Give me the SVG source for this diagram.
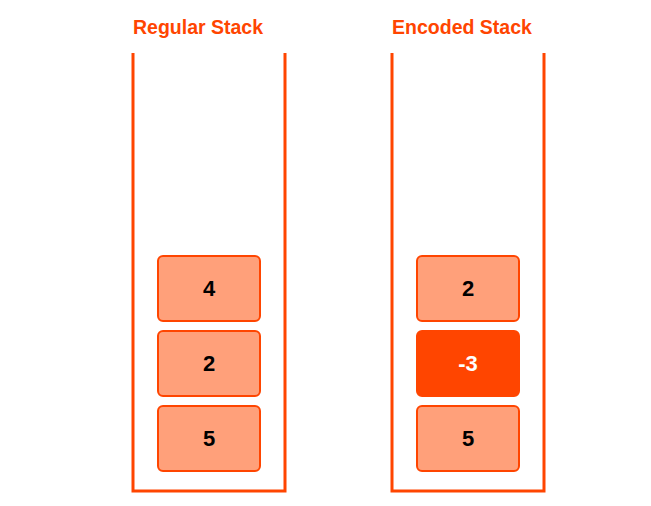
<svg xmlns="http://www.w3.org/2000/svg" width="651" height="506" viewBox="0 0 651 506">
<style>
.title{font-family:"Liberation Sans",Arial,sans-serif;font-weight:bold;font-size:19.5px;fill:#FF4500;text-anchor:middle}
.stack{fill:none;stroke:#FF4500;stroke-width:3}
.box{fill:#FFA07A;stroke:#FF4500;stroke-width:2}
.hot{fill:#FF4500;stroke:#FF4500;stroke-width:2}
.lbl{font-family:"Liberation Sans",Arial,sans-serif;font-weight:bold;font-size:22px;fill:#000;text-anchor:middle;dominant-baseline:central}
.lblw{fill:#fff}
</style>
<rect width="651" height="506" fill="#fff"/>
<g id="regular-stack">
<text class="title" x="198" y="34">Regular Stack</text>
<polyline class="stack" points="133,53 133,491 285,491 285,53"/>
</g>
<g id="encoded-stack">
<text class="title" x="462" y="34">Encoded Stack</text>
<polyline class="stack" points="392,53 392,491 544,491 544,53"/>
</g>
<g id="r4"><rect class="box" x="158" y="256" width="102" height="65" rx="5"/><text class="lbl" x="209" y="288">4</text></g>
<g id="r2"><rect class="box" x="158" y="331" width="102" height="65" rx="5"/><text class="lbl" x="209" y="363">2</text></g>
<g id="r5"><rect class="box" x="158" y="406" width="102" height="65" rx="5"/><text class="lbl" x="209" y="438">5</text></g>
<g id="e2"><rect class="box" x="417" y="256" width="102" height="65" rx="5"/><text class="lbl" x="468" y="288">2</text></g>
<g id="em3"><rect class="hot" x="417" y="331" width="102" height="65" rx="5"/><text class="lbl lblw" x="468" y="363">-3</text></g>
<g id="e5"><rect class="box" x="417" y="406" width="102" height="65" rx="5"/><text class="lbl" x="468" y="438">5</text></g>
<g id="connectors"></g>
</svg>
